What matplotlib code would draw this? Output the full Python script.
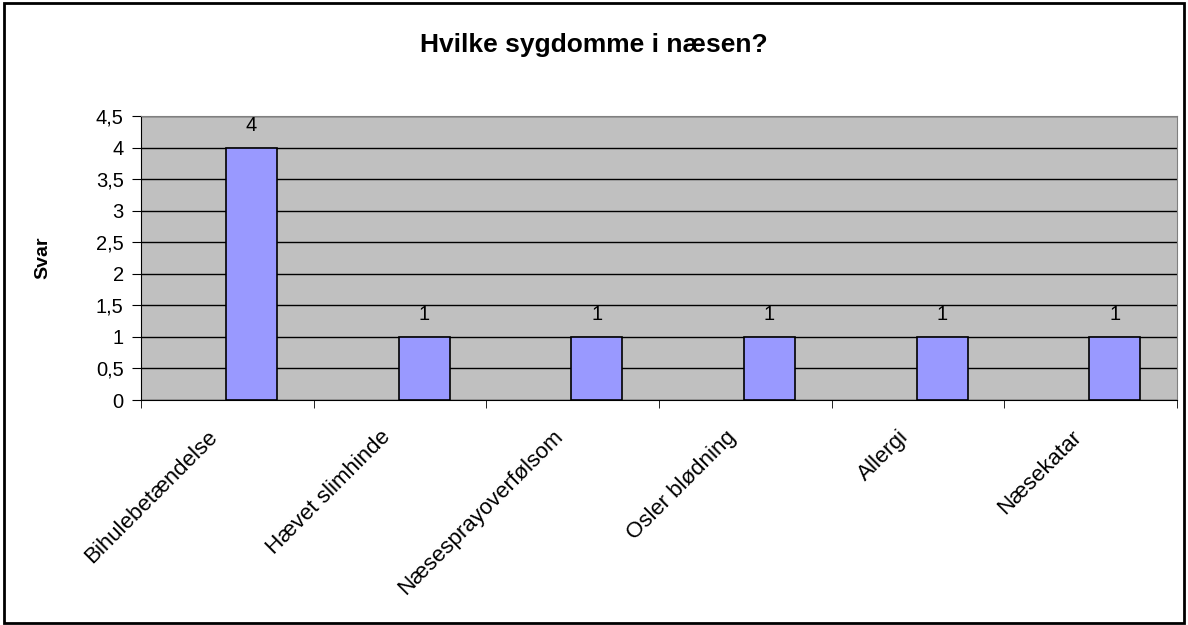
import matplotlib
matplotlib.use('Agg')
from matplotlib import pyplot as plt
from matplotlib.patches import Rectangle
import matplotlib.transforms as mtransforms
import numpy as np

plt.rcParams['font.family'] = ['Liberation Sans', 'DejaVu Sans']

categories = ['Bihulebetændelse', 'Hævet slimhinde', 'Næsesprayoverfølsom',
              'Osler blødning', 'Allergi', 'Næsekatar']
svar = [4, 1, 1, 1, 1, 1]
yticks = [0, 0.5, 1, 1.5, 2, 2.5, 3, 3.5, 4, 4.5]

fig = plt.figure(figsize=(11.88, 6.25), dpi=100)
ax = fig.add_axes([0.1187, 0.36, 0.872, 0.4544])

# outer chart frame
fig.patches.append(Rectangle((0.0035, 0.004), 0.9935, 0.992, transform=fig.transFigure,
                             fill=False, edgecolor='black', linewidth=2))

ax.set_facecolor('#C0C0C0')
x = np.arange(len(categories)) + 0.5
bars = ax.bar(x + 0.14, svar, width=0.295, color='#9999FF', edgecolor='black',
              linewidth=1.2, zorder=3)
for b, v in zip(bars, svar):
    ax.text(b.get_x() + b.get_width() / 2, v + 0.2, str(v), ha='center', va='bottom',
            fontsize=14.5, zorder=4)

ax.set_xlim(0, len(categories))
ax.set_ylim(0, 4.5)
ax.set_yticks(yticks)
ax.set_yticklabels([f'{t:g}'.replace('.', ',') for t in yticks], fontsize=14.5)
ax.yaxis.grid(True, color='black', linewidth=1, zorder=1)
ax.set_axisbelow(True)

ax.set_xticks(x)
ax.set_xticklabels(categories, rotation=45, ha='right', rotation_mode='anchor', fontsize=16)
ax.tick_params(axis='x', which='major', length=0, pad=19)
shift = mtransforms.ScaledTranslation(-20 / 100, 0, fig.dpi_scale_trans)
for lbl in ax.get_xticklabels():
    lbl.set_transform(lbl.get_transform() + shift)
ax.set_xticks(np.arange(len(categories) + 1), minor=True)
ax.tick_params(axis='x', which='minor', length=6, direction='out', color='black')
ax.tick_params(axis='y', length=6.5, pad=6, direction='out', color='black')

for s in ['top', 'right']:
    ax.spines[s].set_color('#808080')
for s in ['left', 'bottom']:
    ax.spines[s].set_color('black')

ax.set_ylabel('Svar', fontsize=14, fontweight='bold')
ax.yaxis.set_label_coords(-0.087, 0.5)
fig.text(0.5, 0.928, 'Hvilke sygdomme i næsen?', ha='center', va='center',
         fontsize=19, fontweight='bold')

fig.savefig('out.png', dpi=100)
